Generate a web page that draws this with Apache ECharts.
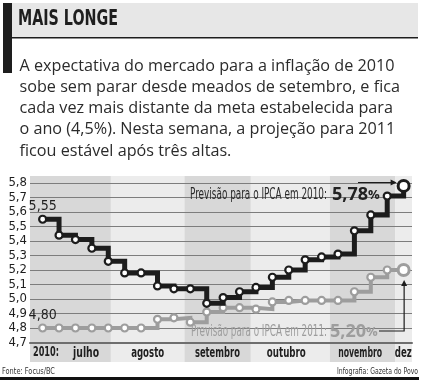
<!DOCTYPE html>
<html><head><meta charset="utf-8">
<script src="https://cdn.jsdelivr.net/npm/echarts@6/dist/echarts.min.js"></script>
<style>html,body{margin:0;padding:0;background:#fff;}#c{width:424px;height:386px;}</style>
</head><body><div id="c"></div>
<script>
// ---------- data ----------
const titleText = 'MAIS LONGE';
const bodyLines = [
  'A expectativa do mercado para a inflação de 2010',
  'sobe sem parar desde meados de setembro, e fica',
  'cada vez mais distante da meta estabelecida para',
  'o ano (4,5%). Nesta semana, a projeção para 2011',
  'ficou estável após três altas.'
];
const yearLabel = '2010:';
const months = ['julho', 'agosto', 'setembro', 'outubro', 'novembro', 'dez'];
const yTickLabels = ['4,7', '4,8', '4,9', '5,0', '5,1', '5,2', '5,3', '5,4', '5,5', '5,6', '5,7', '5,8'];
// weekly Focus/BC expectations (23 weeks, July -> early December 2010)
const ipca2010 = [5.55, 5.44, 5.41, 5.35, 5.26, 5.18, 5.18, 5.09, 5.07, 5.07, 4.97, 5.01,
                  5.05, 5.08, 5.15, 5.20, 5.27, 5.29, 5.31, 5.47, 5.58, 5.71, 5.78];
const ipca2011 = [4.80, 4.80, 4.80, 4.80, 4.80, 4.80, 4.80, 4.86, 4.87, 4.84, 4.91, 4.94,
                  4.94, 4.93, 4.98, 4.99, 4.99, 4.99, 4.99, 5.05, 5.15, 5.20, 5.20];
const note2010 = 'Previsão para o IPCA em 2010:';
const note2011 = 'Previsão para o IPCA em 2011:';
const sourceText = 'Fonte: Focus/BC';
const creditText = 'Infografia: Gazeta do Povo';

// ---------- layout constants (week-index units / pixel widths) ----------
const monthEdges = [-0.77, 4.16, 8.64, 12.69, 17.51, 21.5, 22.51];
const monthLabelPos = [2.65, 6.4, 10.65, 14.85, 19.35, 21.98];
const monthLabelWidth = [26, 33, 45, 39, 44, 17];

const COND = "'DejaVu Sans Condensed','Liberation Sans Narrow',sans-serif";
const fmt = (v, d) => v.toFixed(d).replace('.', ',');
const mctx = document.createElement('canvas').getContext('2d');
function fit(text, font, w) { mctx.font = font; return w / mctx.measureText(text).width; }

const chart = echarts.init(document.getElementById('c'), null, {renderer: 'canvas', width: 424, height: 386});

function seriesData(arr, col, bigBorder) {
  return arr.map((v, i) => {
    const item = {value: [i, v]};
    if (i === 0) {
      item.label = {show: true, position: 'top', distance: 1, formatter: () => fmt(v, 2),
        fontFamily: COND, fontSize: 14, color: '#1f1f1f'};
    }
    if (i === arr.length - 1) {
      item.symbolSize = 11;
      item.itemStyle = {borderWidth: bigBorder, borderColor: col, color: '#fff'};
    }
    return item;
  });
}

const option = {
  animation: false,
  grid: {left: 30, right: 12, top: 183, height: 159.5},
  xAxis: {
    type: 'value', min: monthEdges[0], max: monthEdges[monthEdges.length - 1],
    axisLine: {show: true, onZero: false, lineStyle: {color: '#6e6e6e', width: 2}},
    axisTick: {show: false}, axisLabel: {show: false}, splitLine: {show: false}
  },
  yAxis: {
    type: 'value', min: 4.7, max: 5.8, interval: 0.1,
    axisLine: {show: false}, axisTick: {show: false},
    axisLabel: {
      formatter: (v) => yTickLabels[Math.round((v - 4.7) * 10)],
      fontFamily: COND, fontSize: 13, color: '#1e1e1e', margin: 3
    },
    splitLine: {lineStyle: {color: '#7d7d7d', width: 1}}
  },
  series: [
    {
      type: 'line', name: '2011', step: 'end', z: 3,
      data: seriesData(ipca2011, '#9d9d9d', 3),
      symbol: 'circle', symbolSize: 7,
      lineStyle: {color: '#9d9d9d', width: 4, join: 'miter'},
      itemStyle: {color: '#fff', borderColor: '#9d9d9d', borderWidth: 2.2}
    },
    {
      type: 'line', name: '2010', step: 'end', z: 4,
      data: seriesData(ipca2010, '#1c1c1c', 3),
      symbol: 'circle', symbolSize: 7,
      lineStyle: {color: '#1c1c1c', width: 5, join: 'miter'},
      itemStyle: {color: '#fff', borderColor: '#1c1c1c', borderWidth: 2.2}
    }
  ]
};
chart.setOption(option);

const px = (v) => chart.convertToPixel({xAxisIndex: 0}, v);
const py = (v) => chart.convertToPixel({yAxisIndex: 0}, v);

function txt(text, x, y, font, fill, w, align) {
  return {type: 'text', z: 10, x: x, y: y, scaleX: w ? fit(text, font, w) : 1,
    style: {text: text, x: 0, y: 0, fill: fill, font: font, align: align || 'left', verticalAlign: 'middle'}};
}

const g = [];
// header
g.push({type: 'rect', z: -5, shape: {x: 12, y: 3, width: 406, height: 34}, style: {fill: '#e7e7e7'}});
g.push({type: 'rect', z: -4, shape: {x: 12, y: 37, width: 406, height: 1.5}, style: {fill: '#1e1e1e'}});
g.push({type: 'rect', z: -4, shape: {x: 3, y: 3, width: 9, height: 70}, style: {fill: '#1e1e1e'}});
g.push(txt(titleText, 18, 19.5, "bold 21px " + COND, '#1e1e1e', 100));
const bodyFont = "16px 'Open Sans', sans-serif";
const bodyScale = fit(bodyLines[0], bodyFont, 375);
bodyLines.forEach((t, i) => {
  const e = txt(t, 19.5, 66 + 21.3 * i, bodyFont, '#2b2b2b');
  e.scaleX = bodyScale;
  g.push(e);
});

// month bands
const bandTop = 176, bandBottom = 362;
const labFont = "bold 14px " + COND;
for (let m = 0; m < months.length; m++) {
  const x0 = px(monthEdges[m]), x1 = px(monthEdges[m + 1]);
  g.push({type: 'rect', z: -20, shape: {x: x0, y: bandTop, width: x1 - x0, height: bandBottom - bandTop},
    style: {fill: m % 2 === 0 ? '#d8d8d8' : '#ececec'}});
  g.push(txt(months[m], px(monthLabelPos[m]), 353, labFont, '#1f1f1f', monthLabelWidth[m], 'center'));
}
g.push(txt(yearLabel, 33, 352, labFont, '#1f1f1f', 26));

// annotations
const n = ipca2010.length - 1;
const lx = px(n);
const y11 = py(ipca2011[n]);
const noteFont = "15px " + COND;
g.push(txt(note2010, 190, 195, noteFont, '#2a2a2a', 137));
g.push({type: 'text', z: 10, x: 332, y: 195,
  style: {text: '{a|' + fmt(ipca2010[n], 2) + '}{b|%}', x: 0, y: 0, verticalAlign: 'middle',
    rich: {a: {font: "bold 18px 'Open Sans', sans-serif", fill: '#222', color: '#222'},
           b: {font: "bold 13px 'Open Sans', sans-serif", fill: '#222', color: '#222'}}}});
g.push(txt(note2011, 191, 332, noteFont, '#9d9d9d', 136));
g.push({type: 'text', z: 10, x: 330, y: 332,
  style: {text: '{a|' + fmt(ipca2011[n], 2) + '}{b|%}', x: 0, y: 0, verticalAlign: 'middle',
    rich: {a: {font: "bold 18px 'Open Sans', sans-serif", fill: '#9d9d9d', color: '#9d9d9d'},
           b: {font: "bold 13px 'Open Sans', sans-serif", fill: '#9d9d9d', color: '#9d9d9d'}}}});
// arrow to 2010 end point
const ay = 182.5, tipX = lx - 7;
g.push({type: 'polyline', z: 10, shape: {points: [[358, ay], [tipX - 5, ay]]}, style: {stroke: '#1c1c1c', lineWidth: 1.2}});
g.push({type: 'polygon', z: 10, shape: {points: [[tipX, ay], [tipX - 6, ay - 3], [tipX - 6, ay + 3]]}, style: {fill: '#1c1c1c'}});
// arrow to 2011 end point
const tipY = y11 + 10;
g.push({type: 'polyline', z: 10, shape: {points: [[379, 331], [lx + 0.5, 331], [lx + 0.5, tipY + 5]]}, style: {stroke: '#1c1c1c', lineWidth: 1.2}});
g.push({type: 'polygon', z: 10, shape: {points: [[lx + 0.5, tipY], [lx - 2.5, tipY + 6], [lx + 3.5, tipY + 6]]}, style: {fill: '#1c1c1c'}});

// footer
const footFont = "9px " + COND;
g.push(txt(sourceText, 2, 371.5, footFont, '#333', 53));
g.push(txt(creditText, 418, 371.5, footFont, '#333', 81, 'right'));
g.push({type: 'rect', z: 10, shape: {x: 0, y: 377, width: 419, height: 3}, style: {fill: '#111'}});

chart.setOption({graphic: {elements: g}});
</script>
</body></html>
